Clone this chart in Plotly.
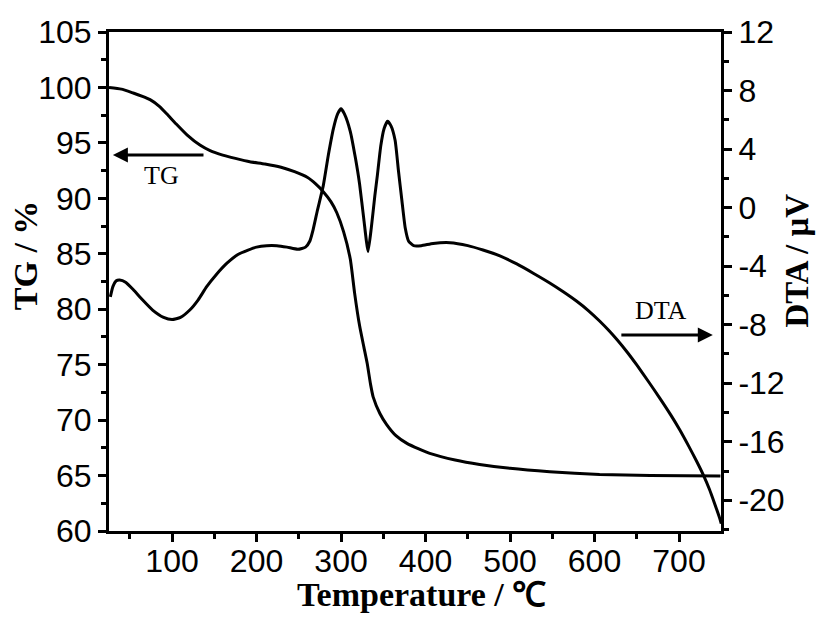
import plotly.graph_objects as go

# ---------------- data ----------------
tg_temp = [25.4, 40, 54, 65, 74, 85, 94, 105, 118, 133, 145, 160, 175, 192, 210, 229, 245,
           260, 270, 279, 288, 295, 303, 311, 316, 322, 327, 331, 335, 338, 346, 354, 365,
           378, 392, 405, 435, 464, 500, 547, 606, 666, 749]
tg_vals = [100.0, 99.85, 99.5, 99.2, 98.9, 98.3, 97.6, 96.7, 95.7, 94.8, 94.3, 93.9, 93.6,
           93.3, 93.1, 92.8, 92.4, 91.9, 91.3, 90.6, 89.7, 88.7, 87.0, 84.5, 81.5, 78.5,
           76.6, 75.1, 73.2, 72.1, 70.6, 69.6, 68.6, 67.9, 67.4, 67.0, 66.4, 66.0, 65.65,
           65.35, 65.1, 65.0, 64.95]

dta_temp = [27, 30, 34, 38, 45, 54, 65, 77, 90, 100, 110, 121, 131, 141, 152, 165, 178, 190,
            200, 212, 224, 236, 249, 258, 263, 267, 272, 279, 285, 291, 296, 300, 304, 311,
            317, 322, 327, 332, 336, 340, 343, 347, 351, 355, 359, 364, 368, 372, 376, 380,
            386, 395, 409, 429, 450, 468, 488, 508, 528, 547, 563, 579, 593, 606, 617, 627,
            639, 650, 664, 677, 690, 701, 711, 721, 729, 736, 742, 748, 750]
dta_vals = [-6.1, -5.4, -5.0, -4.95, -5.1, -5.6, -6.3, -7.0, -7.5, -7.65, -7.5, -7.0, -6.3,
            -5.4, -4.6, -3.8, -3.2, -2.9, -2.7, -2.6, -2.6, -2.7, -2.85, -2.7, -2.3, -1.5,
            -0.2, 1.5, 3.6, 5.4, 6.4, 6.75, 6.4, 5.2, 3.4, 1.6, -0.8, -3.0, -1.3, 0.8, 2.2,
            4.2, 5.4, 5.9, 5.6, 4.6, 2.5, 0.5, -1.4, -2.3, -2.6, -2.6, -2.45, -2.4, -2.6,
            -2.9, -3.3, -3.85, -4.5, -5.15, -5.75, -6.4, -7.05, -7.75, -8.4, -9.05, -9.9,
            -10.75, -11.9, -13.0, -14.15, -15.2, -16.25, -17.35, -18.3, -19.25, -20.2,
            -21.2, -21.6]

x_ticks = [100, 200, 300, 400, 500, 600, 700]
tg_ticks = [60, 65, 70, 75, 80, 85, 90, 95, 100, 105]
dta_ticks = [-20, -16, -12, -8, -4, 0, 4, 8, 12]
dta_ticktext = [str(v) for v in dta_ticks]

x_title = "Temperature / \u2103"
tg_title = "TG / %"
dta_title = "DTA / \u03bcV"

# ---------------- figure ----------------
fig = go.Figure()
fig.add_trace(go.Scatter(x=tg_temp, y=tg_vals, mode="lines", name="TG",
                         line=dict(color="black", width=3, shape="spline", smoothing=0.5),
                         yaxis="y"))
fig.add_trace(go.Scatter(x=dta_temp, y=dta_vals, mode="lines", name="DTA",
                         line=dict(color="black", width=3, shape="spline", smoothing=0.5),
                         yaxis="y2"))

tickfont = dict(family="Liberation Sans, Arial, sans-serif", size=32, color="black")
titlefont = dict(family="Liberation Serif, Times New Roman, serif", size=34, color="black")
labelfont = dict(family="Liberation Serif, Times New Roman, serif", size=26, color="black")

axis_common = dict(showline=True, linewidth=3, linecolor="black", ticks="outside",
                   ticklen=8, tickwidth=3, tickcolor="black", showgrid=False,
                   zeroline=False, tickfont=tickfont)

fig.update_layout(
    width=816, height=621, autosize=False,
    margin=dict(l=109, r=95, t=32, b=90),
    paper_bgcolor="white", plot_bgcolor="white",
    showlegend=False,
    xaxis=dict(range=[25.4, 749.7], tickvals=x_ticks, mirror=True, ticklabelstandoff=-8,
               minor=dict(ticks="outside", ticklen=5, tickwidth=3, tickcolor="black",
                          tick0=0, dtick=50),
               **axis_common),
    yaxis=dict(range=[60, 105], tickvals=tg_ticks,
               minor=dict(ticks="outside", ticklen=5, tickwidth=3, tickcolor="black",
                          tick0=0, dtick=2.5),
               **axis_common),
    yaxis2=dict(range=[-22.1, 12], tickvals=dta_ticks, ticktext=dta_ticktext,
                overlaying="y", side="right",
                minor=dict(ticks="outside", ticklen=5, tickwidth=3, tickcolor="black",
                           tick0=0, dtick=2),
                **axis_common),
)

annotations = [
    # axis titles
    dict(text="<b>%s</b>" % x_title, xref="paper", yref="paper", x=0.51, y=-0.128,
         showarrow=False, font=dict(titlefont, size=34), xanchor="center", yanchor="middle"),
    dict(text="<b>%s</b>" % tg_title, xref="paper", yref="paper", x=-0.137, y=0.553,
         showarrow=False, font=titlefont, textangle=-90, xanchor="center", yanchor="middle"),
    dict(text="<b>%s</b>" % dta_title, xref="paper", yref="paper", x=1.125, y=0.541,
         showarrow=False, font=dict(titlefont, size=33), textangle=-90,
         xanchor="center", yanchor="middle"),
    # arrows
    dict(text="", x=30, y=93.9, xref="x", yref="y", ax=139, ay=93.9, axref="x", ayref="y",
         showarrow=True, arrowhead=2, arrowsize=1, arrowwidth=3, arrowcolor="black"),
    dict(text="", x=740, y=-8.7, xref="x", yref="y2", ax=630, ay=-8.7, axref="x", ayref="y2",
         showarrow=True, arrowhead=2, arrowsize=1, arrowwidth=3, arrowcolor="black"),
    # labels
    dict(text="TG", x=87, y=92.1, xref="x", yref="y", showarrow=False, font=labelfont),
    dict(text="DTA", x=679, y=-7.0, xref="x", yref="y2", showarrow=False, font=labelfont),
]
fig.update_layout(annotations=annotations)

fig.write_html("out.html")
